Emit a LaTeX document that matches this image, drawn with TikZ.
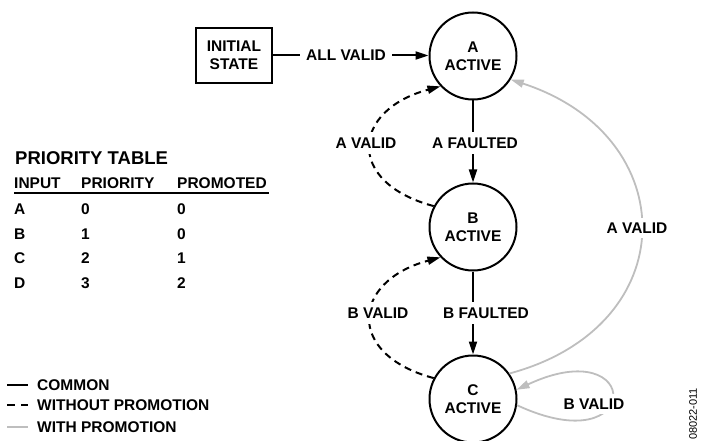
\documentclass[tikz,border=0pt]{standalone}
\usepackage{fontspec}
\setmainfont{Liberation Sans}
\usetikzlibrary{arrows.meta}
\definecolor{promogray}{RGB}{190,190,190}
\begin{document}
\begin{tikzpicture}[x=1pt,y=1pt,
  font=\fontsize{15.5}{18}\selectfont\bfseries,
  state/.style={circle,draw,line width=2pt,minimum size=87pt,inner sep=0pt,align=center},
  initbox/.style={draw,line width=2pt,minimum width=76pt,minimum height=55pt,align=center,inner sep=0pt},
  lbl/.style={fill=white,inner sep=6pt},
  tip/.style={-{Triangle[length=13pt,width=8pt]}},
  conn/.style={line width=2pt,tip},
  dsh/.style={conn,dash pattern=on 7pt off 5pt},
  promo/.style={line width=1.8pt,draw=promogray,tip},
  txt/.style={anchor=base west,inner sep=0pt},
  ttl/.style={txt,font=\fontsize{18.5}{21}\selectfont\bfseries}]
\useasboundingbox (0,0) rectangle (702,440);

% states
\node[initbox] (init) at (234,384.5) {INITIAL\\STATE};
\node[state] (A) at (473,384) {A\\ACTIVE};
\node[state] (B) at (473,213) {B\\ACTIVE};
\node[state] (C) at (473,41) {C\\ACTIVE};

% connectors
\draw[conn] (init.east) -- (A.west |- init.east);
\draw[conn] (A) -- (B);
\draw[conn] (B) -- (C);
\draw[dsh] (B.152) .. controls +(165:92pt) and +(195:92pt) .. (A.223);
\draw[dsh] (C.152) .. controls +(165:92pt) and +(195:92pt) .. (B.223);
\draw[promo] (C.35) .. controls +(15:182pt) and +(-18:182pt) .. (A.328);
\draw[promo] (C.-8) .. controls +(-25:140pt) and +(25:140pt) .. (C.12);

% labels
\node[lbl] (lallvalid) at (346,384.5) {ALL VALID};
\node[lbl] (lavalid) at (366,297) {A VALID};
\node[lbl] (lafault) at (475,297) {A FAULTED};
\node[lbl] (lbvalid) at (378,127) {B VALID};
\node[lbl] (lbfault) at (486,127) {B FAULTED};
\node[lbl,inner sep=5pt] (lapromo) at (637,212) {A VALID};
\node[lbl,inner sep=5pt] (lbpromo) at (594,36) {B VALID};

% priority table
\node[ttl] (ptitle) at (15,275.4) {PRIORITY TABLE};
\node[txt] (hin) at (14,251.5) {INPUT};
\node[txt] (hpr) at (81,251.5) {PRIORITY};
\node[txt] (hpm) at (177,251.5) {PROMOTED};
\coordinate (ulL) at (14,247);
\coordinate (ulR) at (269,247);
\draw[line width=1.6pt] (ulL) -- (ulR);
\node[txt] (ra1) at (14,225.5) {A};
\node[txt] (ra2) at (81,225.5) {0};
\node[txt] (ra3) at (177,225.5) {0};
\node[txt] (rb1) at (14,200.5) {B};
\node[txt] (rb2) at (81,200.5) {1};
\node[txt] (rb3) at (177,200.5) {0};
\node[txt] (rc1) at (14,176.5) {C};
\node[txt] (rc2) at (81,176.5) {2};
\node[txt] (rc3) at (177,176.5) {1};
\node[txt] (rd1) at (14,151.5) {D};
\node[txt] (rd2) at (81,151.5) {3};
\node[txt] (rd3) at (177,151.5) {2};

% legend
\coordinate (lg1a) at (7,55); \coordinate (lg1b) at (28,55);
\coordinate (lg2a) at (7,35); \coordinate (lg2b) at (28,35);
\coordinate (lg3a) at (7,13); \coordinate (lg3b) at (28,13);
\draw[line width=2pt] (lg1a) -- (lg1b);
\draw[line width=2pt,dash pattern=on 8pt off 6pt] (lg2a) -- (lg2b);
\draw[line width=1.8pt,promogray] (lg3a) -- (lg3b);
\node[txt] (lgt1) at (37,49.5) {COMMON};
\node[txt] (lgt2) at (37,29.5) {WITHOUT PROMOTION};
\node[txt] (lgt3) at (37,7.5) {WITH PROMOTION};

% figure number
\node[rotate=90,inner sep=0pt,font=\fontsize{11}{13}\selectfont] (fignum) at (693,26) {08022-011};
\end{tikzpicture}
\end{document}
